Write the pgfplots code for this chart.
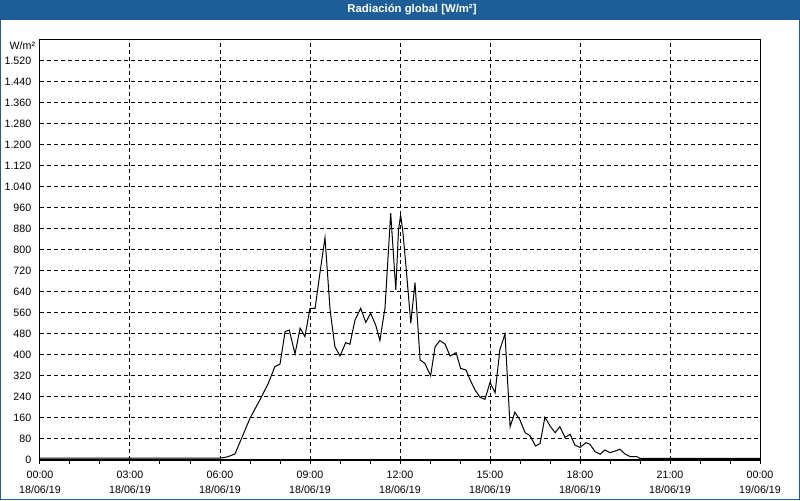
\documentclass[border=0pt]{standalone}
\usepackage{fontspec}
\setmainfont{Liberation Sans}
\usepackage{pgfplots}
\pgfplotsset{compat=1.18}
\definecolor{titlebar}{RGB}{30,94,152}
\begin{document}
\begin{tikzpicture}
\begin{axis}[
  scale only axis,
  width=540pt, height=315pt,
  xmin=0, xmax=24, ymin=0, ymax=1600,
  xtick={0,3,...,24},
  xticklabels={{00:00\\18/06/19},{03:00\\18/06/19},{06:00\\18/06/19},{09:00\\18/06/19},{12:00\\18/06/19},{15:00\\18/06/19},{18:00\\18/06/19},{21:00\\18/06/19},{00:00\\19/06/19}},
  xticklabel style={align=center, font=\fontsize{8pt}{11.25pt}\selectfont, yshift=-2pt},
  minor x tick num=2,
  ytick={0,80,...,1520},
  yticklabel style={font=\fontsize{8pt}{10pt}\selectfont},
  /pgf/number format/.cd, 1000 sep={.}, assume math mode=true,
  /pgfplots/.cd,
  tick align=outside,
  xtick pos=bottom,
  ytick pos=left,
  major tick length=3pt,
  minor tick length=3pt,
  y tick style={draw=none},
  tick style={black, line width=0.75pt},
  axis line style={black, line width=0.75pt},
  grid=major,
  major grid style={black, line width=0.75pt, dash pattern=on 3pt off 2.25pt},
  clip=false,
]
\addplot[black, line width=0.75pt] coordinates {
(0,7) (6.0,7) (6.25,12) (6.5,23) (6.72,83) (7.0,159) (7.33,229) (7.61,292)
(7.83,356) (8.0,365) (8.17,489) (8.31,495) (8.5,404) (8.67,502) (8.83,470)
(9.0,578) (9.17,578) (9.33,711) (9.5,847) (9.67,571) (9.83,432) (10.0,396)
(10.19,447) (10.33,441) (10.5,533) (10.69,578) (10.86,524) (11.02,559)
(11.19,514) (11.33,455) (11.5,580) (11.69,940) (11.86,648) (11.95,876)
(12.02,933) (12.09,876) (12.22,711) (12.36,521) (12.5,676) (12.56,571)
(12.67,381) (12.83,368) (13.02,321) (13.17,432) (13.33,455) (13.5,442)
(13.67,396) (13.87,409) (14.02,349) (14.2,343) (14.33,307) (14.5,267)
(14.67,239) (14.83,231) (15.0,295) (15.17,256) (15.33,421) (15.5,480)
(15.67,127) (15.83,182) (16.0,152) (16.17,104) (16.33,93) (16.52,53)
(16.67,63) (16.83,163) (17.0,130) (17.17,104) (17.33,127) (17.5,86)
(17.67,98) (17.83,57) (18.0,48) (18.2,66) (18.33,60) (18.5,32) (18.67,22)
(18.83,38) (19.0,28) (19.17,34) (19.33,41) (19.5,23) (19.67,13) (19.89,13)
(20.0,6) (24,6)
};
\node[anchor=east, font=\fontsize{8pt}{10pt}\selectfont, inner sep=0pt] at ([xshift=-3.5pt, yshift=-4pt]rel axis cs:0,1) {W/m²};
\end{axis}
\fill[titlebar] (-30pt,330pt) rectangle (570pt,345pt);
\node[text=white, font=\bfseries\fontsize{8.5pt}{10pt}\selectfont] at (279pt,337.5pt) {Radiación global [W/m²]};
\draw[titlebar, line width=0.75pt] (-29.625pt,-29.625pt) rectangle (569.625pt,344.625pt);
\pgfresetboundingbox
\path[use as bounding box] (-30pt,-30pt) rectangle (570pt,345pt);
\end{tikzpicture}
\end{document}
